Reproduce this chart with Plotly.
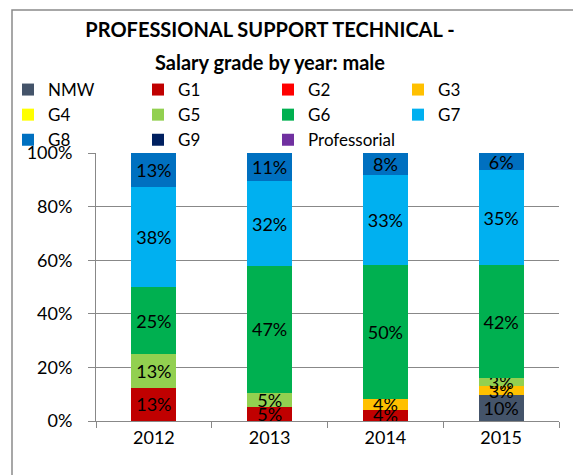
import plotly.graph_objects as go

years = ["2012", "2013", "2014", "2015"]
grades = ["NMW", "G1", "G2", "G3", "G4", "G5", "G6", "G7", "G8", "G9", "Professorial"]
colors = ["#44546A", "#C00000", "#FF0000", "#FFC000", "#FFFF00", "#92D050",
          "#00B050", "#00B0F0", "#0070C0", "#002060", "#7030A0"]

# percentage share per grade, per year (None = no staff in that grade)
NMW = [None, None, None, 9.68]
G1 = [12.5, 5.26, 4.17, None]
G2 = [None, None, None, None]
G3 = [None, None, 4.17, 3.23]
G4 = [None, None, None, None]
G5 = [12.5, 5.26, None, 3.23]
G6 = [25.0, 47.37, 50.0, 41.94]
G7 = [37.5, 31.58, 33.33, 35.48]
G8 = [12.5, 10.53, 8.33, 6.45]
G9 = [None, None, None, None]
Professorial = [None, None, None, None]

series = [NMW, G1, G2, G3, G4, G5, G6, G7, G8, G9, Professorial]

FONT = "Lato"
GRID = "#888888"
W, H = 573, 467      # page body has an 8px margin; figure fills the rest
OFF = 8

def fx(px):  # screen px -> container fraction (x)
    return (px - OFF) / W

def fy(px):  # screen px -> container fraction (y)
    return 1 - (px - OFF) / H

legend_names = ["legend", "legend2", "legend3", "legend4"]

fig = go.Figure()
for i, (name, vals, col) in enumerate(zip(grades, series, colors)):
    fig.add_trace(go.Bar(
        x=years, y=vals, name=name,
        legend=legend_names[i % 4],
        marker=dict(color=col, line=dict(width=0)),
        texttemplate="%{y:.0f}%", textposition="inside",
        insidetextanchor="middle", textangle=0,
        textfont=dict(family=FONT, size=18, color="black"),
    ))

leg_common = dict(
    orientation="v", traceorder="normal",
    xref="container", yref="container",
    xanchor="left", yanchor="top",
    font=dict(family=FONT, size=17, color="black"),
    bgcolor="rgba(0,0,0,0)", tracegroupgap=0,
    itemclick=False, itemdoubleclick=False,
)
legends = {}
for k, lname in enumerate(legend_names):
    legends[lname] = dict(leg_common, x=fx(8 + 130 * k), y=fy(72))

# plot area in screen px: x 96..559, y 153..421
L, R, T, B = 96, 559, 153, 421

fig.update_layout(
    barmode="stack",
    bargap=0.61,
    width=W, height=H,
    margin=dict(l=L - OFF, r=W - (R - OFF), t=T - OFF, b=H - (B - OFF), autoexpand=False),
    paper_bgcolor="white", plot_bgcolor="white",
    font=dict(family=FONT, size=16, color="black"),
    uniformtext=dict(minsize=18, mode="show"),
    title=dict(
        text="<b>PROFESSIONAL SUPPORT TECHNICAL -</b>",
        x=fx(270), xanchor="center", xref="container",
        y=fy(30), yanchor="middle", yref="container",
        font=dict(family=FONT, size=20, color="black"),
    ),
    annotations=[dict(
        text="<b>Salary grade by year: male</b>",
        xref="paper", yref="paper",
        x=(270 - L) / (R - L), y=(B - 62) / (B - T),
        xanchor="center", yanchor="middle", showarrow=False,
        font=dict(family=FONT, size=20, color="black"),
    )],
    xaxis=dict(
        showline=True, linecolor=GRID, linewidth=1,
        ticks="outside", tickson="boundaries", ticklen=6, tickcolor=GRID,
        tickfont=dict(family=FONT, size=18),
        showgrid=False, automargin=False,
    ),
    yaxis=dict(
        range=[0, 100], dtick=20, ticksuffix="%",
        showline=True, linecolor=GRID, linewidth=1,
        ticks="outside", ticklen=7, tickcolor=GRID,
        ticklabelstandoff=12,
        showgrid=True, gridcolor=GRID, gridwidth=1,
        tickfont=dict(family=FONT, size=18),
        zeroline=False, automargin=False,
    ),
    shapes=[dict(
        type="rect", xref="paper", yref="paper",
        x0=(12 - L) / (R - L), x1=2.0, y0=-1.0, y1=(B - 10) / (B - T),
        line=dict(color="#8a8a8a", width=1.5), fillcolor="rgba(0,0,0,0)",
        layer="below",
    )],
    **legends,
)

fig.write_html("out.html")
